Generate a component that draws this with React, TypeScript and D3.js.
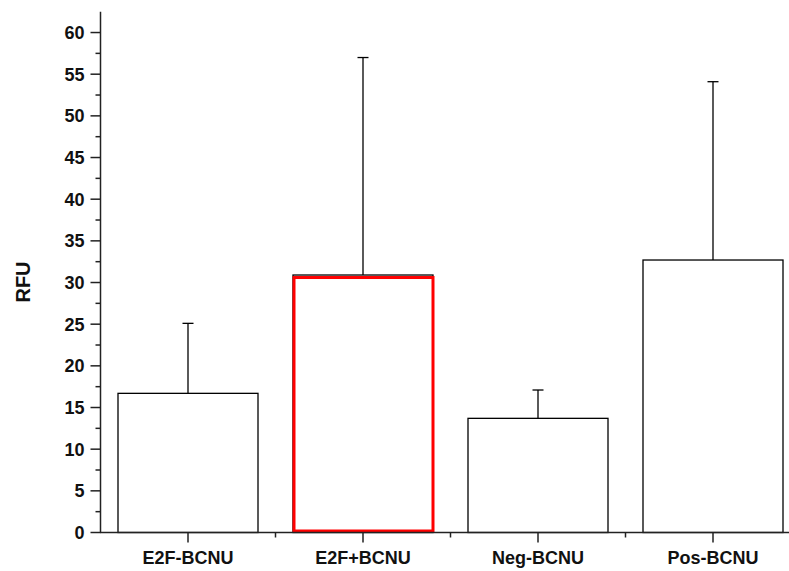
import React, { useRef, useEffect } from 'react';
import * as d3 from 'd3';

const categories = ['E2F-BCNU', 'E2F+BCNU', 'Neg-BCNU', 'Pos-BCNU'];
const means = [16.7, 30.9, 13.7, 32.7];
const upperErr = [25.1, 57.0, 17.1, 54.1];
const yTicks = [0, 5, 10, 15, 20, 25, 30, 35, 40, 45, 50, 55, 60];
const yMinorTicks = [2.5, 7.5, 12.5, 17.5, 22.5, 27.5, 32.5, 37.5, 42.5, 47.5, 52.5, 57.5];
const highlighted = 'E2F+BCNU';
const highlightTop = 30.6;

const App = () => {
  const svgRef = useRef<SVGSVGElement>(null);

  useEffect(() => {
    const svg = d3.select(svgRef.current);
    svg.selectAll('*').remove();

    const font = 'Liberation Sans, Arial, sans-serif';
    const x0 = 100.5;
    const y0 = 532.5;

    const x = d3.scaleBand().domain(categories).range([x0, x0 + 700]).paddingInner(0.2).paddingOuter(0.1);
    const y = d3.scaleLinear().domain([0, 62.5]).range([y0, 11.7]);

    // bars
    svg.append('g')
      .selectAll('rect')
      .data(categories)
      .join('rect')
      .attr('x', d => x(d)!)
      .attr('y', (d, i) => y(means[i]))
      .attr('width', x.bandwidth())
      .attr('height', (d, i) => y0 - y(means[i]))
      .attr('fill', '#fff')
      .attr('stroke', '#000')
      .attr('stroke-width', 1.3);

    // error bars (upper only)
    const eg = svg.append('g').attr('stroke', '#000').attr('stroke-width', 1.3);
    categories.forEach((c, i) => {
      const cx = x(c)! + x.bandwidth() / 2;
      eg.append('line').attr('x1', cx).attr('x2', cx).attr('y1', y(means[i])).attr('y2', y(upperErr[i]));
      eg.append('line').attr('x1', cx - 5.5).attr('x2', cx + 5.5).attr('y1', y(upperErr[i])).attr('y2', y(upperErr[i]));
    });

    // red highlight box
    svg.append('rect')
      .attr('x', x(highlighted)! + 1)
      .attr('y', y(highlightTop))
      .attr('width', x.bandwidth() - 1)
      .attr('height', y(0) - 1.5 - y(highlightTop))
      .attr('fill', 'none')
      .attr('stroke', '#f00')
      .attr('stroke-width', 3);

    // y axis
    const ax = svg.append('g').attr('stroke', '#222').attr('stroke-width', 1.5);
    ax.append('line').attr('x1', x0).attr('x2', x0).attr('y1', y(62.5)).attr('y2', y0 + 0.5);
    yTicks.forEach(t => {
      ax.append('line').attr('x1', x0 - 10).attr('x2', x0).attr('y1', y(t)).attr('y2', y(t));
    });
    yMinorTicks.forEach(t => {
      ax.append('line').attr('x1', x0 - 5).attr('x2', x0).attr('y1', y(t)).attr('y2', y(t));
    });
    svg.append('g')
      .selectAll('text')
      .data(yTicks)
      .join('text')
      .attr('x', x0 - 16)
      .attr('y', d => y(d))
      .attr('dy', '0.36em')
      .attr('text-anchor', 'end')
      .attr('font-family', font)
      .attr('font-weight', 'bold')
      .attr('font-size', 18)
      .attr('fill', '#111')
      .text(d => d);

    // x axis
    ax.append('line').attr('x1', x0 - 0.5).attr('x2', x0 + 700).attr('y1', y0).attr('y2', y0);
    categories.forEach((c, i) => {
      const cx = x(c)! + x.bandwidth() / 2;
      ax.append('line').attr('x1', cx).attr('x2', cx).attr('y1', y0).attr('y2', y0 + 10);
      if (i > 0) {
        const bx = x0 + x.step() * i;
        ax.append('line').attr('x1', bx).attr('x2', bx).attr('y1', y0).attr('y2', y0 + 5);
      }
    });
    svg.append('g')
      .selectAll('text')
      .data(categories)
      .join('text')
      .attr('x', d => x(d)! + x.bandwidth() / 2)
      .attr('y', 564)
      .attr('text-anchor', 'middle')
      .attr('font-family', font)
      .attr('font-weight', 'bold')
      .attr('font-size', 18)
      .attr('fill', '#111')
      .text(d => d);

    // y label
    svg.append('text')
      .attr('transform', `translate(30,282) rotate(-90)`)
      .attr('text-anchor', 'middle')
      .attr('font-family', font)
      .attr('font-weight', 'bold')
      .attr('font-size', 20)
      .attr('fill', '#111')
      .text('RFU');
  }, []);

  return (
    <svg ref={svgRef} width="789" height="571" style={{ position: 'absolute', left: 0, top: 0, background: '#fff' }}></svg>
  );
};

export default App;
